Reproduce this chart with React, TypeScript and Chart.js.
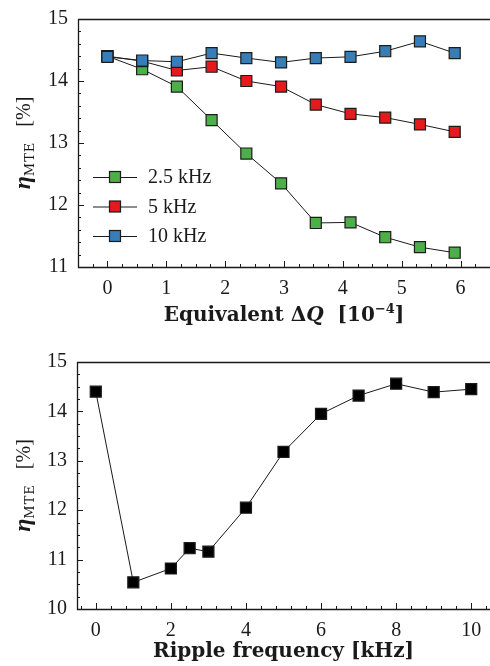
import { useEffect, useRef } from "react";
import { Chart, registerables } from "chart.js";

Chart.register(...registerables);

// ---------- Data (top panel) ----------
const dqValues = [0, 0.59, 1.18, 1.77, 2.36, 2.95, 3.54, 4.13, 4.72, 5.31, 5.9];
const eta25kHz = [14.4, 14.19, 13.91, 13.37, 12.83, 12.35, 11.71, 11.72, 11.48, 11.32, 11.23];
const eta5kHz = [14.4, 14.32, 14.17, 14.23, 14.0, 13.91, 13.62, 13.47, 13.41, 13.3, 13.18];
const eta10kHz = [14.39, 14.33, 14.31, 14.45, 14.37, 14.3, 14.37, 14.39, 14.48, 14.64, 14.45];
const seriesLabels = ["2.5 kHz", "5 kHz", "10 kHz"];
const topXTicks = [0, 1, 2, 3, 4, 5, 6];
const topYTicks = [11, 12, 13, 14, 15];

// ---------- Data (bottom panel) ----------
const rippleFreq = [0, 1, 2, 2.5, 3, 4, 5, 6, 7, 8, 9, 10];
const etaRipple = [14.4, 10.54, 10.82, 11.23, 11.16, 12.05, 13.18, 13.95, 14.32, 14.56, 14.39, 14.45];
const bottomXTicks = [0, 2, 4, 6, 8, 10];
const bottomYTicks = [10, 11, 12, 13, 14, 15];

const SERIF = "'Liberation Serif', 'DejaVu Serif', serif";
const DJ = "'DejaVu Serif', serif";
const INK = "#1a1a1a";

type Part = { t: string; font: string; dy?: number; ls?: number };

function setPart(ctx: CanvasRenderingContext2D, p: Part) {
  ctx.font = p.font;
  (ctx as any).letterSpacing = `${p.ls || 0}px`;
}
function partsWidth(ctx: CanvasRenderingContext2D, parts: Part[]) {
  let w = 0;
  for (const p of parts) {
    setPart(ctx, p);
    w += ctx.measureText(p.t).width;
  }
  (ctx as any).letterSpacing = "0px";
  return w;
}
function drawParts(ctx: CanvasRenderingContext2D, parts: Part[], x: number, y: number) {
  let cx = x;
  for (const p of parts) {
    setPart(ctx, p);
    ctx.fillText(p.t, cx, y + (p.dy || 0));
    cx += ctx.measureText(p.t).width;
  }
  (ctx as any).letterSpacing = "0px";
}

const yTitleParts: Part[] = [
  { t: "η", font: `italic bold 24px ${SERIF}` },
  { t: "MTE", font: `13px ${DJ}`, dy: 4, ls: 1 },
  { t: "   [%]", font: `20px ${SERIF}` },
];

interface DecorCfg {
  xMinor: number;
  yMinor: number;
  xTitle: Part[];
  xTitleOffset: number;
  yTitleX: number;
  legend?: boolean;
}

function makeDecor(cfg: DecorCfg) {
  return {
    id: "decor",
    afterDraw(chart: any) {
      const { ctx, chartArea: a, scales } = chart;
      const xs = scales.x;
      const ys = scales.y;
      ctx.save();
      ctx.strokeStyle = INK;
      ctx.fillStyle = INK;
      // frame: left, bottom, top
      ctx.lineWidth = 1.3;
      ctx.beginPath();
      ctx.moveTo(a.right + 2, a.top + 0.5);
      ctx.lineTo(a.left + 0.5, a.top + 0.5);
      ctx.lineTo(a.left + 0.5, a.bottom + 0.5);
      ctx.lineTo(a.right + 2, a.bottom + 0.5);
      ctx.stroke();
      // ticks
      ctx.lineWidth = 1;
      ctx.beginPath();
      for (const t of xs.ticks) {
        const px = Math.round(xs.getPixelForValue(t.value)) + 0.5;
        ctx.moveTo(px, a.bottom);
        ctx.lineTo(px, a.bottom - 6);
      }
      for (let v = Math.ceil(xs.min / cfg.xMinor) * cfg.xMinor; v <= xs.max + 1e-9; v += cfg.xMinor) {
        const px = Math.round(xs.getPixelForValue(v)) + 0.5;
        ctx.moveTo(px, a.bottom);
        ctx.lineTo(px, a.bottom - 3);
      }
      for (const t of ys.ticks) {
        const py = Math.round(ys.getPixelForValue(t.value)) + 0.5;
        ctx.moveTo(a.left, py);
        ctx.lineTo(a.left + 6, py);
      }
      for (let v = Math.ceil(ys.min / cfg.yMinor) * cfg.yMinor; v <= ys.max + 1e-9; v += cfg.yMinor) {
        const py = Math.round(ys.getPixelForValue(v)) + 0.5;
        ctx.moveTo(a.left, py);
        ctx.lineTo(a.left + 3, py);
      }
      ctx.stroke();

      // x title
      ctx.textBaseline = "alphabetic";
      ctx.textAlign = "left";
      const xw = partsWidth(ctx, cfg.xTitle);
      drawParts(ctx, cfg.xTitle, (a.left + a.right) / 2 - xw / 2, a.bottom + cfg.xTitleOffset);

      // y title (rotated)
      ctx.save();
      ctx.translate(cfg.yTitleX, (a.top + a.bottom) / 2);
      ctx.rotate(-Math.PI / 2);
      const yw = partsWidth(ctx, yTitleParts);
      drawParts(ctx, yTitleParts, -yw / 2, 0);
      ctx.restore();

      // legend
      if (cfg.legend) {
        const ds = chart.data.datasets;
        ds.forEach((d: any, i: number) => {
          const cy = a.top + 158 + i * 29.5;
          ctx.strokeStyle = INK;
          ctx.lineWidth = 1;
          ctx.beginPath();
          ctx.moveTo(a.left + 15, cy + 0.5);
          ctx.lineTo(a.left + 59, cy + 0.5);
          ctx.stroke();
          const s = 11;
          ctx.fillStyle = d.pointBackgroundColor;
          ctx.fillRect(a.left + 37 - s / 2, cy - s / 2, s, s);
          ctx.lineWidth = 1.2;
          ctx.strokeStyle = d.pointBorderColor;
          ctx.strokeRect(a.left + 37 - s / 2, cy - s / 2, s, s);
          ctx.fillStyle = INK;
          ctx.font = `20px ${SERIF}`;
          ctx.textBaseline = "middle";
          ctx.fillText(d.label, a.left + 70, cy + 1);
        });
      }
      ctx.restore();
    },
  };
}

function axisOpts(
  min: number,
  max: number,
  tickVals: number[],
  horizontal: boolean,
  fitSize: number,
  padding: number
) {
  return {
    type: "linear" as const,
    min,
    max,
    grid: { display: false, drawTicks: false, tickLength: 0 },
    border: { display: false },
    ticks: {
      font: { family: SERIF, size: 20 },
      color: INK,
      padding,
      maxRotation: 0,
      autoSkip: false,
    },
    afterBuildTicks: (scale: any) => {
      scale.ticks = tickVals.map((v) => ({ value: v }));
    },
    afterFit: (scale: any) => {
      if (horizontal) {
        scale.height = fitSize;
        scale.paddingLeft = 0;
        scale.paddingRight = 0;
      } else {
        scale.width = fitSize;
        scale.paddingTop = 0;
        scale.paddingBottom = 0;
      }
    },
  };
}

function makeSeries(label: string, xs: number[], ys: number[], fill: string, order: number) {
  return {
    label,
    data: xs.map((x, i) => ({ x, y: ys[i] })),
    borderColor: INK,
    borderWidth: 1,
    pointStyle: "rect" as const,
    pointRadius: 7.8,
    pointHoverRadius: 7.8,
    pointBackgroundColor: fill,
    pointBorderColor: "#1c1c1c",
    pointBorderWidth: 1.2,
    order,
    clip: false as const,
  };
}

function TopChart() {
  const ref = useRef<HTMLCanvasElement>(null);
  useEffect(() => {
    const chart = new Chart(ref.current!, {
      type: "line",
      data: {
        datasets: [
          makeSeries(seriesLabels[0], dqValues, eta25kHz, "#4daf4a", 3),
          makeSeries(seriesLabels[1], dqValues, eta5kHz, "#e41a1c", 2),
          makeSeries(seriesLabels[2], dqValues, eta10kHz, "#377eb8", 1),
        ],
      },
      options: {
        animation: false,
        responsive: false,
        devicePixelRatio: 1,
        layout: { autoPadding: false, padding: { top: 19, right: 0, left: 0, bottom: 0 } },
        plugins: { legend: { display: false }, tooltip: { enabled: false } },
        scales: {
          x: axisOpts(-0.5, 6.5, topXTicks, true, 66, 10),
          y: axisOpts(11, 15, topYTicks, false, 78, 10),
        },
      },
      plugins: [
        makeDecor({
          xMinor: 0.25,
          yMinor: 0.2,
          xTitle: [
            { t: "Equivalent ", font: `bold 20px ${DJ}` },
            { t: "Δ", font: `bold 20px ${DJ}` },
            { t: "Q", font: `italic bold 20px ${DJ}` },
            { t: "  [10", font: `bold 20px ${DJ}` },
            { t: "−4", font: `bold 13px ${DJ}`, dy: -8 },
            { t: "]", font: `bold 20px ${DJ}` },
          ],
          xTitleOffset: 54,
          yTitleX: 30,
          legend: true,
        }),
      ],
    });
    return () => chart.destroy();
  }, []);
  return <canvas ref={ref} width={490} height={333} style={{ display: "block" }} />;
}

function BottomChart() {
  const ref = useRef<HTMLCanvasElement>(null);
  useEffect(() => {
    const chart = new Chart(ref.current!, {
      type: "line",
      data: {
        datasets: [makeSeries("Ripple", rippleFreq, etaRipple, "#000000", 1)],
      },
      options: {
        animation: false,
        responsive: false,
        devicePixelRatio: 1,
        layout: { autoPadding: false, padding: { top: 29, right: 0, left: 0, bottom: 0 } },
        plugins: { legend: { display: false }, tooltip: { enabled: false } },
        scales: {
          x: axisOpts(-0.5, 10.5, bottomXTicks, true, 57, 10),
          y: axisOpts(10, 15, bottomYTicks, false, 77, 10),
        },
      },
      plugins: [
        makeDecor({
          xMinor: 0.4,
          yMinor: 0.25,
          xTitle: [{ t: "Ripple frequency [kHz]", font: `bold 20px ${DJ}` }],
          xTitleOffset: 48,
          yTitleX: 30,
        }),
      ],
    });
    return () => chart.destroy();
  }, []);
  return <canvas ref={ref} width={490} height={333} style={{ display: "block" }} />;
}

export default function App() {
  return (
    <div style={{ position: "absolute", left: 0, top: 0, width: 490, height: 666, background: "#fff", overflow: "hidden" }}>
      <TopChart />
      <BottomChart />
    </div>
  );
}
